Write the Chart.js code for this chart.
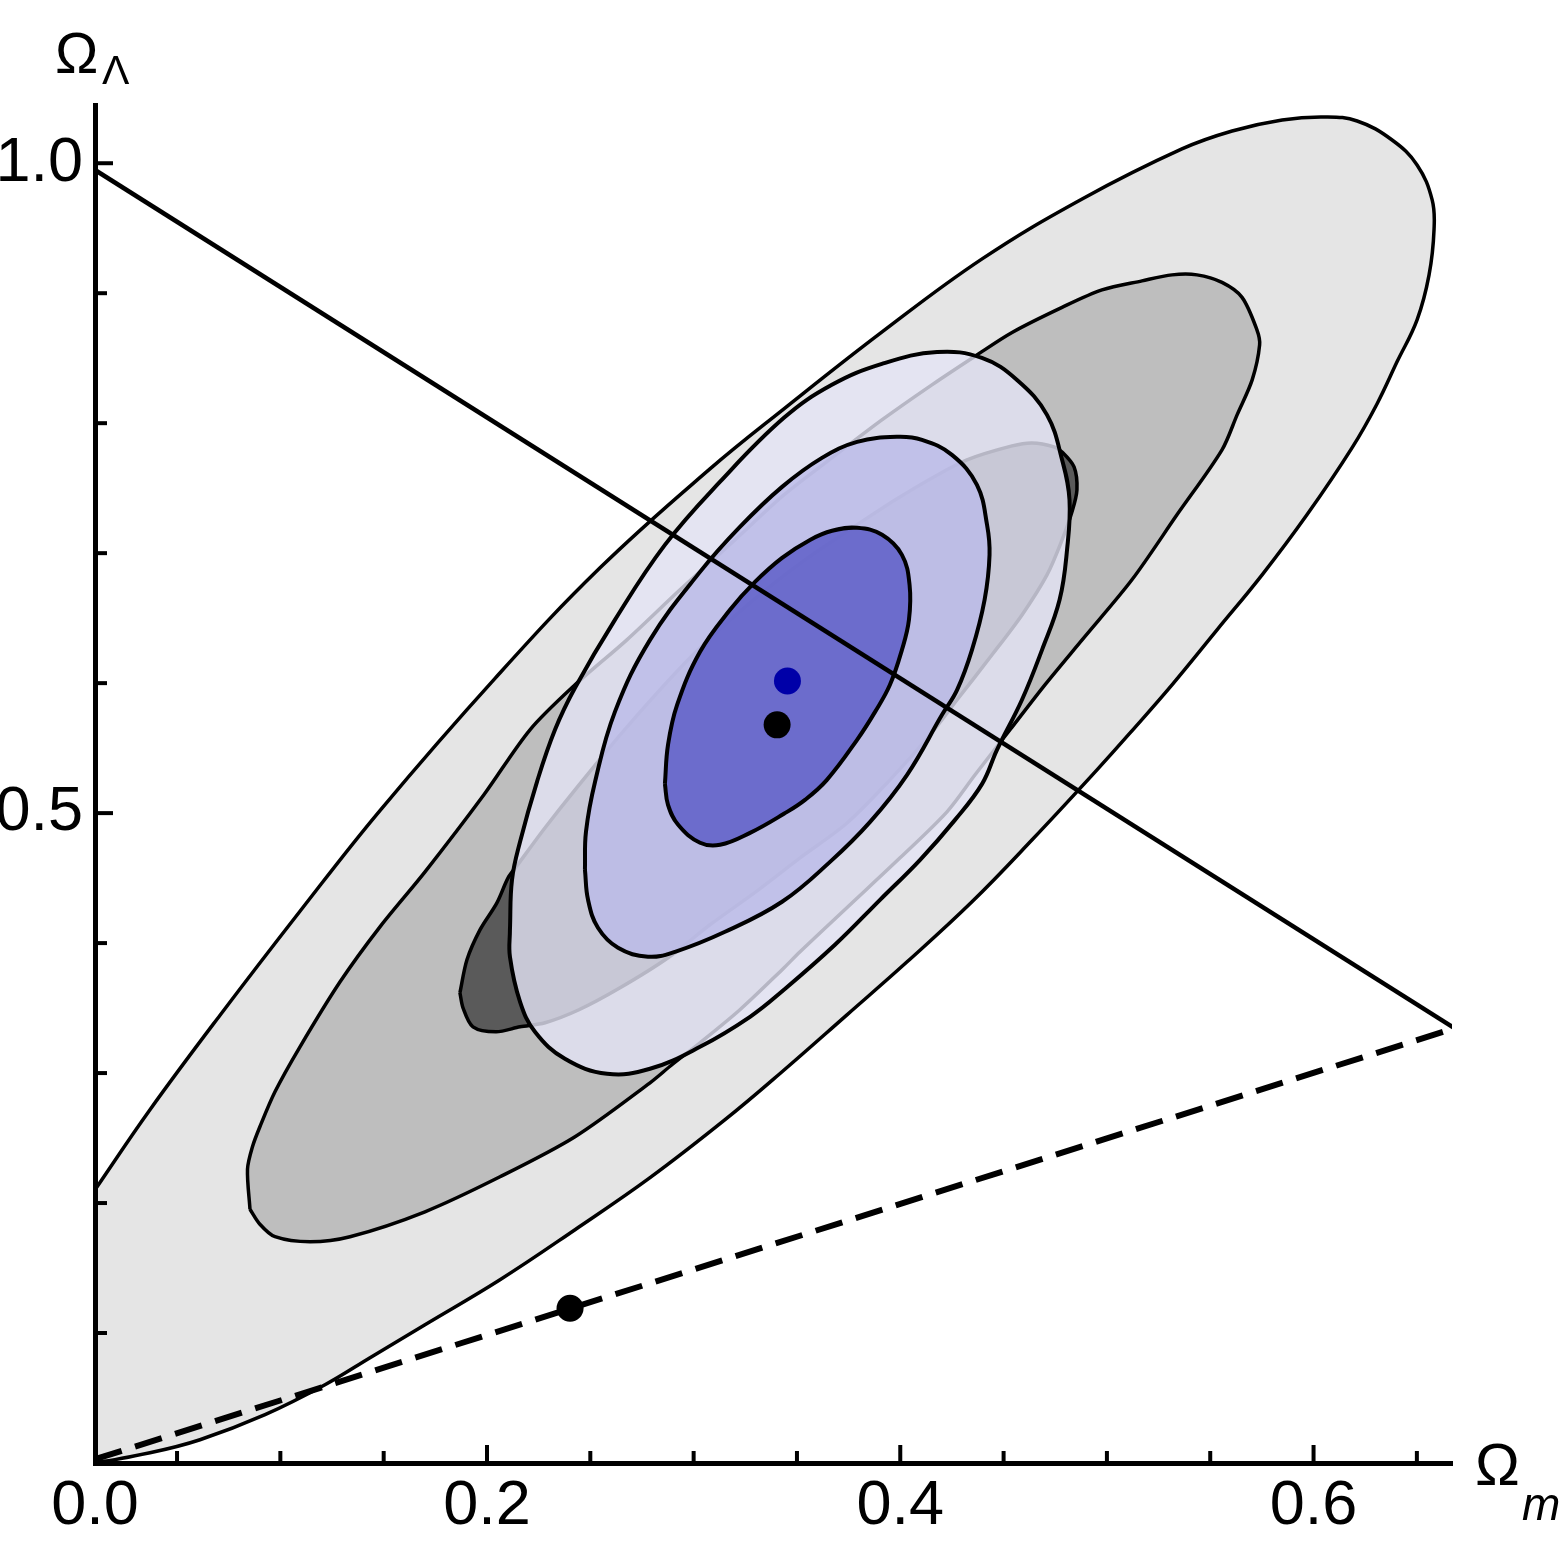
<!DOCTYPE html>
<html>
<head>
<meta charset="utf-8">
<script src="https://cdn.jsdelivr.net/npm/chart.js@4.4.1/dist/chart.umd.min.js"></script>
<style>
  html, body { margin: 0; padding: 0; background: #fff; }
</style>
</head>
<body>
<canvas id="graph" width="1563" height="1565"></canvas>
<script>
// axis ranges (Omega_m, Omega_Lambda)
const xMin = 0.0103, xMax = 0.667;
const yMin = 0, yMax = 1.0448;

const xLabelValues = [0.0103, 0.2, 0.4, 0.6];
const xLabelTexts = ["0.0", "0.2", "0.4", "0.6"];
const yLabelValues = [0.5, 1.0];
const yLabelTexts = ["0.5", "1.0"];
const xTickMarks = [0.05, 0.1, 0.15, 0.2, 0.25, 0.3, 0.35, 0.4, 0.45, 0.5, 0.55, 0.6, 0.65];
const xMajorMarks = [0.2, 0.4, 0.6];
const yTickMarks = [0.1, 0.2, 0.3, 0.4, 0.5, 0.6, 0.7, 0.8, 0.9, 1.0];
const yMajorMarks = [0.5, 1.0];

// grey contours (outer, middle, inner)
const greyOuter = [[0.0103,0.2102],[0.0369,0.2718],[0.0708,0.3445],[0.1095,0.4245],[0.1482,0.5020],[0.2039,0.6037],[0.2547,0.6887],[0.3079,0.7648],[0.3437,0.8110],[0.3912,0.8702],[0.4396,0.9264],[0.4880,0.9725],[0.5363,1.0110],[0.5606,1.0248],[0.5848,1.0333],[0.6051,1.0356],[0.6211,1.0325],[0.6380,1.0179],[0.6501,0.9987],[0.6574,0.9718],[0.6583,0.9487],[0.6559,0.9141],[0.6501,0.8795],[0.6404,0.8472],[0.6307,0.8148],[0.6186,0.7810],[0.5968,0.7295],[0.5751,0.6833],[0.5533,0.6410],[0.5315,0.5987],[0.5121,0.5633],[0.4952,0.5333],[0.4638,0.4795],[0.4347,0.4318],[0.4033,0.3856],[0.3742,0.3448],[0.3428,0.3010],[0.3152,0.2641],[0.2789,0.2195],[0.2426,0.1795],[0.2063,0.1410],[0.1700,0.1064],[0.1434,0.0810],[0.1216,0.0602],[0.0926,0.0372],[0.0611,0.0179],[0.0369,0.0079],[0.0103,0.0010]];
const greyMiddle = [[0.0853,0.1952],[0.0841,0.2260],[0.0865,0.2433],[0.0901,0.2587],[0.0974,0.2856],[0.1095,0.3202],[0.1289,0.3702],[0.1482,0.4125],[0.1700,0.4548],[0.1985,0.5141],[0.2208,0.5641],[0.2426,0.5987],[0.2677,0.6333],[0.2934,0.6718],[0.3200,0.7102],[0.3437,0.7448],[0.3669,0.7733],[0.3911,0.8025],[0.4153,0.8295],[0.4371,0.8525],[0.4541,0.8698],[0.4783,0.8891],[0.4976,0.9025],[0.5170,0.9095],[0.5315,0.9141],[0.5436,0.9141],[0.5557,0.9083],[0.5654,0.8968],[0.5726,0.8718],[0.5739,0.8602],[0.5703,0.8333],[0.5630,0.8064],[0.5557,0.7795],[0.5339,0.7295],[0.5121,0.6795],[0.4880,0.6333],[0.4700,0.5987],[0.4531,0.5641],[0.4362,0.5295],[0.4226,0.5010],[0.3999,0.4656],[0.3757,0.4295],[0.3515,0.3933],[0.3428,0.3795],[0.3224,0.3487],[0.3031,0.3233],[0.2895,0.3064],[0.2789,0.2925],[0.2426,0.2510],[0.2063,0.2202],[0.1700,0.1933],[0.1337,0.1741],[0.1144,0.1702],[0.0974,0.1741],[0.0901,0.1837]];
const greyInner = [[0.1869,0.3618],[0.1903,0.3872],[0.1966,0.4102],[0.2048,0.4310],[0.2102,0.4502],[0.2145,0.4595],[0.2281,0.4887],[0.2426,0.5179],[0.2678,0.5664],[0.2997,0.6218],[0.3273,0.6618],[0.3539,0.6948],[0.3791,0.7218],[0.3984,0.7418],[0.4154,0.7579],[0.4323,0.7718],[0.4541,0.7825],[0.4638,0.7848],[0.4744,0.7818],[0.4783,0.7779],[0.4841,0.7664],[0.4855,0.7487],[0.4831,0.7318],[0.4783,0.7102],[0.4710,0.6833],[0.4589,0.6525],[0.4444,0.6218],[0.4275,0.5872],[0.4144,0.5602],[0.3950,0.5256],[0.3738,0.4918],[0.3515,0.4656],[0.3307,0.4402],[0.3079,0.4141],[0.2876,0.3887],[0.2644,0.3656],[0.2445,0.3487],[0.2281,0.3387],[0.2160,0.3356],[0.2044,0.3318],[0.1932,0.3356],[0.1884,0.3502]];

// blue contours (outer, middle, inner)
const blueOuter = [[0.2111,0.4102],[0.2121,0.4487],[0.2160,0.4779],[0.2242,0.5241],[0.2329,0.5641],[0.2426,0.5964],[0.2619,0.6487],[0.2861,0.7064],[0.3127,0.7548],[0.3437,0.8041],[0.3669,0.8295],[0.3911,0.8456],[0.4178,0.8548],[0.4395,0.8502],[0.4565,0.8333],[0.4710,0.8064],[0.4783,0.7718],[0.4819,0.7410],[0.4807,0.7025],[0.4771,0.6641],[0.4686,0.6256],[0.4589,0.5872],[0.4468,0.5487],[0.4396,0.5225],[0.4265,0.4948],[0.4096,0.4641],[0.3902,0.4333],[0.3684,0.3987],[0.3437,0.3641],[0.3273,0.3433],[0.3031,0.3202],[0.2789,0.3033],[0.2581,0.2995],[0.2377,0.3110],[0.2232,0.3318],[0.2160,0.3548],[0.2111,0.3895]];
const blueMiddle = [[0.2474,0.4564],[0.2479,0.4856],[0.2523,0.5241],[0.2619,0.5779],[0.2789,0.6333],[0.3031,0.6856],[0.3224,0.7202],[0.3428,0.7510],[0.3621,0.7733],[0.3791,0.7856],[0.3984,0.7895],[0.4105,0.7872],[0.4250,0.7756],[0.4371,0.7525],[0.4420,0.7218],[0.4432,0.6987],[0.4408,0.6641],[0.4347,0.6256],[0.4275,0.5948],[0.4202,0.5756],[0.4033,0.5295],[0.3854,0.4933],[0.3660,0.4625],[0.3428,0.4318],[0.3152,0.4087],[0.2910,0.3933],[0.2779,0.3895],[0.2634,0.3964],[0.2537,0.4118],[0.2489,0.4333]];
const blueInner = [[0.2861,0.5225],[0.2876,0.5525],[0.2920,0.5833],[0.3031,0.6241],[0.3176,0.6564],[0.3297,0.6779],[0.3428,0.6964],[0.3563,0.7102],[0.3670,0.7172],[0.3791,0.7195],[0.3912,0.7141],[0.4008,0.6987],[0.4045,0.6756],[0.4042,0.6487],[0.4008,0.6256],[0.3950,0.5987],[0.3878,0.5779],[0.3791,0.5564],[0.3645,0.5256],[0.3539,0.5102],[0.3437,0.4995],[0.3273,0.4848],[0.3128,0.4756],[0.3031,0.4772],[0.2925,0.4910],[0.2876,0.5064]];

// flat universe line and q = 0 line
const flatLine = [[0.0103,0.9948],[0.6682,0.3345]];
const noAccelLine = [[0.0103,0.0029],[0.6682,0.3345]];

// best fit points
const blackPoints = [[0.3404,0.5679],[0.2402,0.1191]];
const bluePoints = [[0.3454,0.6016]];

const FONT = '"Liberation Sans", Arial, Helvetica, sans-serif';
Chart.defaults.font.family = FONT;

function toXY(arr) {
    return arr.map(p => ({x: p[0], y: p[1]}));
}

function contour(arr, color, width, tension, order) {
    return {
        data: toXY(arr.concat([arr[0]])),
        showLine: true,
        fill: 'shape',
        backgroundColor: color,
        borderColor: '#000',
        borderWidth: width,
        pointRadius: 0,
        tension: tension,
        order: order
    };
}

// tick marks point inwards, drawn with the scales
var innerTicks = {
    id: 'innerTicks',
    afterDraw(chart) {
        const ctx = chart.ctx;
        const xs = chart.scales.x, ys = chart.scales.y;
        ctx.save();
        ctx.strokeStyle = '#000';
        ctx.lineWidth = 4;
        xTickMarks.forEach(v => {
            const px = xs.getPixelForValue(v);
            const len = xMajorMarks.includes(v) ? 18 : 12;
            ctx.beginPath();
            ctx.moveTo(px, ys.bottom);
            ctx.lineTo(px, ys.bottom - len);
            ctx.stroke();
        });
        yTickMarks.forEach(v => {
            const py = ys.getPixelForValue(v);
            const len = yMajorMarks.includes(v) ? 18 : 12;
            ctx.beginPath();
            ctx.moveTo(xs.left, py);
            ctx.lineTo(xs.left + len, py);
            ctx.stroke();
        });

        // axis names
        ctx.fillStyle = '#000';
        ctx.textBaseline = 'alphabetic';
        ctx.textAlign = 'left';
        ctx.font = '58px ' + FONT;
        ctx.fillText('Ω', 55, 73);
        ctx.font = '41px ' + FONT;
        ctx.fillText('Λ', 102, 84);
        ctx.font = '60px ' + FONT;
        ctx.fillText('Ω', 1475, 1485);
        ctx.font = 'italic 46px ' + FONT;
        ctx.fillText('m', 1522, 1520);
        ctx.restore();
    }
};

var ctx = document.getElementById("graph").getContext("2d");

var data = {
    datasets: [
        {data: toXY(bluePoints), pointRadius: 13.5, pointBackgroundColor: '#0000a8', pointBorderWidth: 0, order: 0},
        {data: toXY(blackPoints), pointRadius: 13.5, pointBackgroundColor: '#000', pointBorderWidth: 0, order: 1},
        {data: toXY(flatLine), showLine: true, borderColor: '#000', borderWidth: 4.5, pointRadius: 0, order: 2},
        {data: toXY(noAccelLine), showLine: true, borderColor: '#000', borderWidth: 6, borderDash: [28, 14], pointRadius: 0, order: 3},
        contour(blueInner, 'rgba(87,87,197,0.8)', 4, 0.4, 4),
        contour(blueMiddle, 'rgba(186,186,233,0.8)', 4, 0.4, 5),
        contour(blueOuter, 'rgba(228,228,245,0.8)', 4, 0.4, 6),
        contour(greyInner, '#5a5a5a', 3.5, 0.3, 7),
        contour(greyMiddle, '#bebebe', 3.5, 0.3, 8),
        contour(greyOuter, '#e5e5e5', 3.5, 0.4, 9)
    ]
};

var options = {
    responsive: false,
    animation: false,
    events: [],
    layout: {padding: {left: 0, top: 105, right: 111, bottom: 0}},
    plugins: {legend: {display: false}, tooltip: {enabled: false}},
    scales: {
        x: {
            type: 'linear',
            min: xMin,
            max: xMax,
            afterBuildTicks: s => { s.ticks = xLabelValues.map(v => ({value: v})); },
            afterFit: s => { s.height = 102; },
            grid: {display: false, drawTicks: false},
            border: {display: true, color: '#000', width: 5, z: 1},
            ticks: {
                autoSkip: false, maxRotation: 0, padding: 6, color: '#000',
                font: {size: 63, lineHeight: 1.2},
                callback: (v, i) => xLabelTexts[i]
            }
        },
        y: {
            type: 'linear',
            min: yMin,
            max: yMax,
            afterBuildTicks: s => { s.ticks = yLabelValues.map(v => ({value: v})); },
            afterFit: s => { s.width = 95; },
            grid: {display: false, drawTicks: false},
            border: {display: true, color: '#000', width: 5, z: 1},
            ticks: {
                autoSkip: false, padding: 12, color: '#000',
                font: {size: 63, lineHeight: 1.2},
                callback: (v, i) => yLabelTexts[i]
            }
        }
    }
};

var config = {
    type: "scatter",
    data: data,
    options: options,
    plugins: [innerTicks]
};

var graph = new Chart(ctx, config);
</script>
</body>
</html>
